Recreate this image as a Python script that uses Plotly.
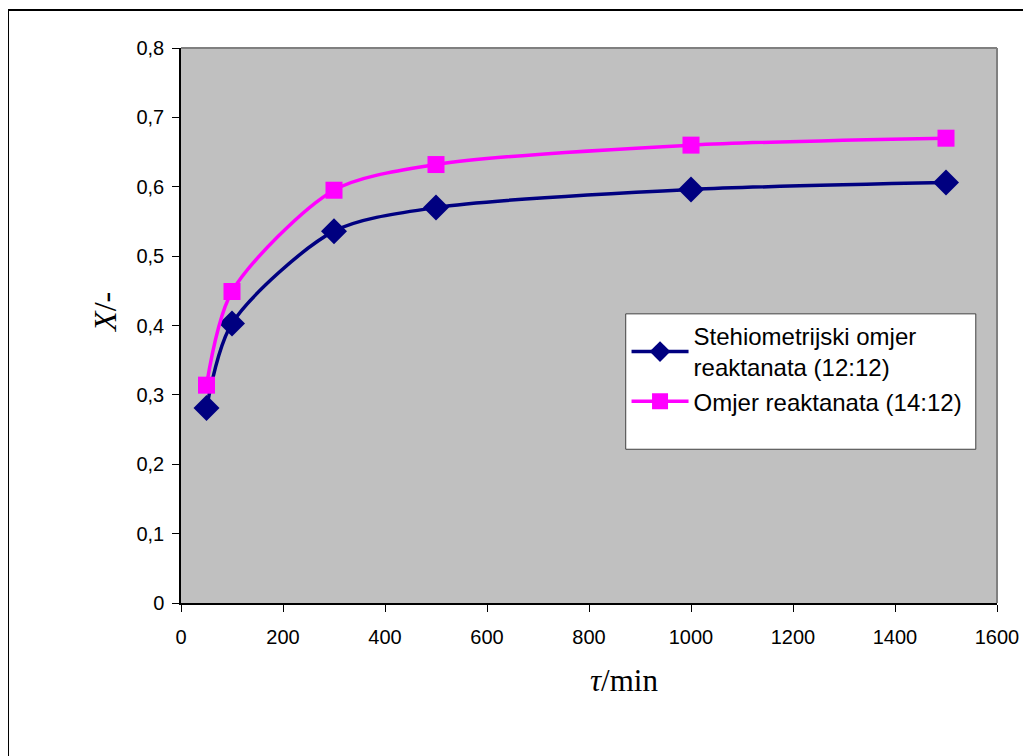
import plotly.graph_objects as go

# reaction time (min)
tau = [50, 100, 300, 500, 1000, 1500]

# conversion X for the two reactant ratios
x_12_12 = [0.281, 0.403, 0.536, 0.570, 0.596, 0.606]
x_14_12 = [0.314, 0.449, 0.595, 0.632, 0.660, 0.670]

names = ["Stehiometrijski omjer<br>reaktanata (12:12)", "Omjer reaktanata (14:12)"]

fig = go.Figure()

fig.add_trace(go.Scatter(
    x=tau, y=x_12_12, name=names[0], mode="lines+markers",
    line=dict(color="#000080", width=3.5, shape="spline", smoothing=0.8),
    marker=dict(symbol="diamond", size=20, color="#000080")))

fig.add_trace(go.Scatter(
    x=tau, y=x_14_12, name=names[1], mode="lines+markers",
    line=dict(color="#FF00FF", width=3.5, shape="spline", smoothing=0.8),
    marker=dict(symbol="square", size=17, color="#FF00FF")))

# outer chart border and the legend box
fig.add_shape(type="rect", xref="paper", yref="paper",
              x0=-0.212, x1=1.06, y0=-0.32, y1=1.0685,
              line=dict(color="black", width=2), fillcolor="rgba(0,0,0,0)", layer="below")
fig.add_shape(type="rect", xref="paper", yref="paper",
              x0=0.545, x1=0.974, y0=0.277, y1=0.521,
              line=dict(color="#404040", width=1), fillcolor="white")

fig.add_annotation(text="<i>X</i>/-", xref="paper", yref="paper", x=-0.118, y=0.524,
                   showarrow=False, textangle=-90,
                   font=dict(family="Liberation Serif", size=32, color="black"))
fig.add_annotation(text="<i>τ</i>/min", xref="paper", yref="paper", x=0.543, y=-0.175,
                   showarrow=False,
                   font=dict(family="Liberation Serif", size=31, color="black"))

fig.update_layout(
    width=1023, height=748,
    margin=dict(l=173, r=34, t=40, b=153),
    paper_bgcolor="white", plot_bgcolor="#C0C0C0",
    separators=", ",
    font=dict(family="Liberation Sans", size=20, color="black"),
    showlegend=True,
    legend=dict(x=0.546, y=0.521, xanchor="left", yanchor="top",
                bgcolor="rgba(0,0,0,0)", borderwidth=0, itemwidth=57,
                font=dict(size=24), tracegroupgap=4),
    xaxis=dict(range=[0, 1600], dtick=200, showgrid=False, zeroline=False,
               showline=True, linecolor="black", linewidth=1.5, mirror=False,
               ticks="outside", ticklen=7, tickcolor="black", ticklabelstandoff=8),
    yaxis=dict(range=[0, 0.8], dtick=0.1, showgrid=False, zeroline=False,
               showline=True, linecolor="black", linewidth=1.5,
               ticks="outside", ticklen=7, tickcolor="black", ticklabelstandoff=4),
)

# grey frame on top and right of the plot area
fig.add_shape(type="line", xref="paper", yref="paper", x0=0, x1=1, y0=1, y1=1,
              line=dict(color="#808080", width=2))
fig.add_shape(type="line", xref="paper", yref="paper", x0=1, x1=1, y0=0, y1=1,
              line=dict(color="#808080", width=2))

fig.write_html("out.html")
